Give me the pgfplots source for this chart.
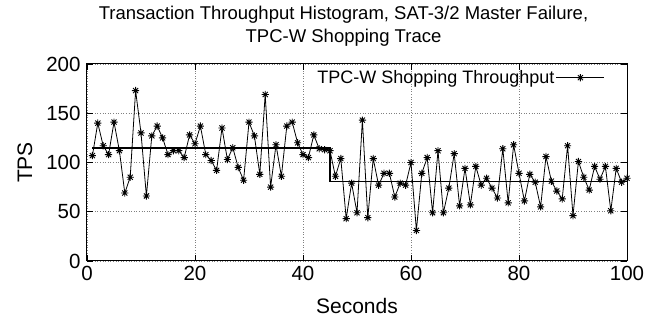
\documentclass[border=0pt]{standalone}
\usepackage{fontspec}
\setmainfont{Liberation Sans}
\usepackage{pgfplots}
\pgfplotsset{compat=1.18}
\pgfdeclareplotmark{gpstar}{%
  \pgfpathmoveto{\pgfpoint{-\pgfplotmarksize}{0pt}}%
  \pgfpathlineto{\pgfpoint{\pgfplotmarksize}{0pt}}%
  \pgfpathmoveto{\pgfpoint{0pt}{-\pgfplotmarksize}}%
  \pgfpathlineto{\pgfpoint{0pt}{\pgfplotmarksize}}%
  \pgfpathmoveto{\pgfpoint{-0.7071\pgfplotmarksize}{-0.7071\pgfplotmarksize}}%
  \pgfpathlineto{\pgfpoint{0.7071\pgfplotmarksize}{0.7071\pgfplotmarksize}}%
  \pgfpathmoveto{\pgfpoint{-0.7071\pgfplotmarksize}{0.7071\pgfplotmarksize}}%
  \pgfpathlineto{\pgfpoint{0.7071\pgfplotmarksize}{-0.7071\pgfplotmarksize}}%
  \pgfusepathqstroke}
\pgfplotstableread{
t y
1 107
2 140
3 117
4 108
5 141
6 112
7 69
8 85
9 173
10 130
11 66
12 127
13 137
14 125
15 108
16 112
17 112
18 105
19 128
20 119
21 137
22 108
23 102
24 92
25 135
26 103
27 115
28 95
29 82
30 141
31 127
32 88
33 169
34 75
35 118
36 86
37 137
38 141
39 120
40 108
41 105
42 128
43 114
44 113
45 112
46 86
47 104
48 43
49 79
50 49
51 143
52 44
53 104
54 77
55 89
56 89
57 65
58 79
59 77
60 100
61 31
62 89
63 105
64 49
65 112
66 49
67 74
68 109
69 56
70 94
71 57
72 96
73 77
74 84
75 74
76 64
77 114
78 59
79 118
80 89
81 61
82 88
83 80
84 55
85 106
86 81
87 71
88 63
89 117
90 46
91 101
92 85
93 72
94 96
95 83
96 96
97 51
98 94
99 80
100 84
}\datatable
\begin{document}
\begin{tikzpicture}
\useasboundingbox (-87pt,-59pt) rectangle (564pt,261pt);
\begin{axis}[
  scale only axis,
  width=540pt, height=197pt,
  xmin=0, xmax=100, ymin=0, ymax=200,
  xtick={0,20,40,60,80,100},
  ytick={0,50,100,150,200},
  /pgf/number format/assume math mode=true,
  tick label style={font=\fontsize{20.5}{22}\selectfont},
  xticklabel style={yshift=-2pt},
  yticklabel style={xshift=-3pt},
  major tick length=6pt,
  tick style={black, line width=0.8pt},
  axis line style={line width=1pt},
  grid=major,
  major grid style={gray, line width=0.6pt, dotted},
  xlabel={Seconds}, ylabel={TPS},
  label style={font=\fontsize{21}{24}\selectfont},
  xlabel style={at={(axis description cs:0.5,0)}, anchor=center, yshift=-45pt},
  ylabel style={at={(axis description cs:-0.1148,0.5)}, anchor=center},
  title={Transaction Throughput Histogram, SAT-3/2 Master Failure,\\TPC-W Shopping Trace},
  title style={font=\fontsize{18.5}{23.5}\selectfont, align=center, anchor=center, at={(rel axis cs:0.475,1)}, yshift=32pt},
  legend plot pos=right,
  legend style={draw=none, fill=none, inner sep=0pt, anchor=east,
    at={(rel axis cs:0.9593,0.9305)}, font=\fontsize{18}{20}\selectfont,
    nodes={inner sep=1.5pt}},
  legend image code/.code={%
    \draw[#1, mark repeat=2, mark phase=2] plot coordinates {(0pt,0pt) (24pt,0pt) (48pt,0pt)};},
]
\addplot[black, line width=0.8pt, mark=gpstar, mark size=3.6pt, mark options={line width=0.9pt}] table[x=t, y=y] {\datatable};
\addlegendentry{TPC-W Shopping Throughput}
\addplot[black, line width=1.6pt, forget plot] coordinates {(1,114.9) (45,114.9) (45,80.7) (100,80.7)};
\end{axis}
\end{tikzpicture}
\end{document}
